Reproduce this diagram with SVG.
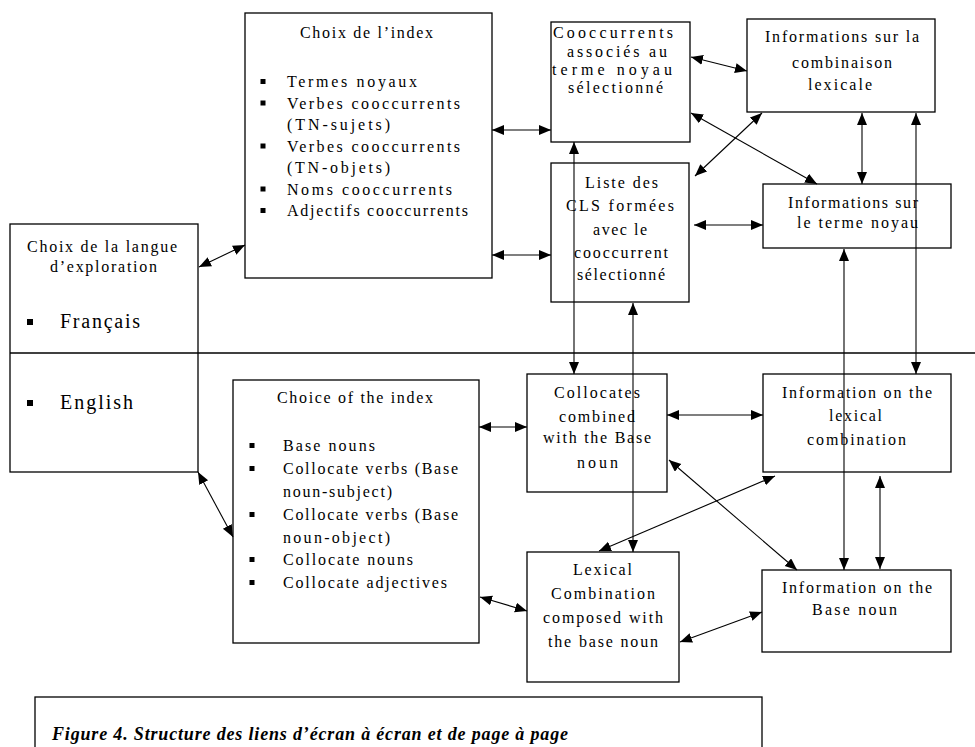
<svg xmlns="http://www.w3.org/2000/svg" width="975" height="747" viewBox="0 0 975 747">
<style>
.box{fill:#fff;stroke:#000;stroke-width:1.3}
.t{font-family:"Liberation Serif","Times New Roman",serif;font-size:16px;fill:#000}
.big{font-size:20px}
.cap{font-family:"Liberation Serif","Times New Roman",serif;font-size:18px;font-weight:bold;font-style:italic;fill:#000}
.c{fill:none;stroke:#000;stroke-width:1.1;marker-start:url(#ah);marker-end:url(#ah)}
.b{fill:#000}
</style>
<defs>
<marker id="ah" markerUnits="userSpaceOnUse" markerWidth="13" markerHeight="11" refX="12" refY="5" orient="auto-start-reverse" viewBox="0 0 13 11">
<path d="M0,0 L12,5 L0,10 z" fill="#000"/>
</marker>
</defs>
<rect width="975" height="747" fill="#fff"/>

<g id="langue">
<rect class="box" x="10" y="224" width="188" height="248"/>
<text class="t" x="27" y="252" textLength="150" lengthAdjust="spacing">Choix de la langue</text>
<text class="t" x="50" y="272" textLength="107" lengthAdjust="spacing">d’exploration</text>
<rect class="b" x="27" y="319" width="6" height="6"/>
<text class="t big" x="60" y="328" textLength="80" lengthAdjust="spacing">Français</text>
<rect class="b" x="27" y="400" width="6" height="6"/>
<text class="t big" x="60" y="409" textLength="73" lengthAdjust="spacing">English</text>
</g>

<g id="divider">
<line x1="10" y1="353" x2="975" y2="353" stroke="#000" stroke-width="1.3"/>
</g>

<g id="index-fr">
<rect class="box" x="245" y="13" width="247" height="265"/>
<text class="t" x="300" y="38" textLength="133" lengthAdjust="spacing">Choix de l’index</text>
<rect class="b" x="260.5" y="79" width="5" height="5"/>
<text class="t" x="287" y="87" textLength="130" lengthAdjust="spacing">Termes noyaux</text>
<rect class="b" x="260.5" y="100.5" width="5" height="5"/>
<text class="t" x="287" y="108.5" textLength="173" lengthAdjust="spacing">Verbes cooccurrents</text>
<text class="t" x="287" y="130" textLength="103" lengthAdjust="spacing">(TN-sujets)</text>
<rect class="b" x="260.5" y="143.5" width="5" height="5"/>
<text class="t" x="287" y="151.5" textLength="173" lengthAdjust="spacing">Verbes cooccurrents</text>
<text class="t" x="287" y="173" textLength="103" lengthAdjust="spacing">(TN-objets)</text>
<rect class="b" x="260.5" y="186.5" width="5" height="5"/>
<text class="t" x="287" y="194.5" textLength="165" lengthAdjust="spacing">Noms cooccurrents</text>
<rect class="b" x="260.5" y="208" width="5" height="5"/>
<text class="t" x="287" y="216" textLength="181" lengthAdjust="spacing">Adjectifs cooccurrents</text>
</g>

<g id="cooccurrents">
<rect class="box" x="551" y="22" width="139" height="120"/>
<text class="t" x="553" y="38" textLength="120" lengthAdjust="spacing">Cooccurrents</text>
<text class="t" x="567" y="57" textLength="100" lengthAdjust="spacing">associés au</text>
<text class="t" x="552" y="75" textLength="120" lengthAdjust="spacing">terme noyau</text>
<text class="t" x="568" y="93" textLength="95" lengthAdjust="spacing">sélectionné</text>
</g>

<g id="liste-cls">
<rect class="box" x="551" y="163" width="138" height="139"/>
<text class="t" x="585" y="188" textLength="73" lengthAdjust="spacing">Liste des</text>
<text class="t" x="566" y="211" textLength="108" lengthAdjust="spacing">CLS formées</text>
<text class="t" x="593" y="235" textLength="54" lengthAdjust="spacing">avec le</text>
<text class="t" x="574" y="258" textLength="94" lengthAdjust="spacing">cooccurrent</text>
<text class="t" x="577" y="280" textLength="88" lengthAdjust="spacing">sélectionné</text>
</g>

<g id="info-combinaison">
<rect class="box" x="747" y="19" width="188" height="93"/>
<text class="t" x="765" y="42" textLength="154" lengthAdjust="spacing">Informations sur la</text>
<text class="t" x="792" y="68" textLength="100" lengthAdjust="spacing">combinaison</text>
<text class="t" x="808" y="90" textLength="64" lengthAdjust="spacing">lexicale</text>
</g>

<g id="info-terme">
<rect class="box" x="763" y="184" width="188" height="64"/>
<text class="t" x="788" y="208" textLength="130" lengthAdjust="spacing">Informations sur</text>
<text class="t" x="797" y="228" textLength="121" lengthAdjust="spacing">le terme noyau</text>
</g>

<g id="index-en">
<rect class="box" x="233" y="380" width="246" height="263"/>
<text class="t" x="277" y="403" textLength="156" lengthAdjust="spacing">Choice of the index</text>
<rect class="b" x="249.5" y="443" width="5" height="5"/>
<text class="t" x="283" y="451" textLength="92" lengthAdjust="spacing">Base nouns</text>
<rect class="b" x="249.5" y="466" width="5" height="5"/>
<text class="t" x="283" y="474" textLength="175" lengthAdjust="spacing">Collocate verbs (Base</text>
<text class="t" x="283" y="497" textLength="109" lengthAdjust="spacing">noun-subject)</text>
<rect class="b" x="249.5" y="512" width="5" height="5"/>
<text class="t" x="283" y="520" textLength="175" lengthAdjust="spacing">Collocate verbs (Base</text>
<text class="t" x="283" y="543" textLength="107" lengthAdjust="spacing">noun-object)</text>
<rect class="b" x="249.5" y="557" width="5" height="5"/>
<text class="t" x="283" y="565" textLength="130" lengthAdjust="spacing">Collocate nouns</text>
<rect class="b" x="249.5" y="580" width="5" height="5"/>
<text class="t" x="283" y="588" textLength="164" lengthAdjust="spacing">Collocate adjectives</text>
</g>

<g id="collocates">
<rect class="box" x="527" y="374" width="140" height="118"/>
<text class="t" x="554" y="398" textLength="86" lengthAdjust="spacing">Collocates</text>
<text class="t" x="559" y="422" textLength="76" lengthAdjust="spacing">combined</text>
<text class="t" x="543" y="443" textLength="108" lengthAdjust="spacing">with the Base</text>
<text class="t" x="577" y="468" textLength="41" lengthAdjust="spacing">noun</text>
</g>

<g id="info-lexical">
<rect class="box" x="763" y="374" width="188" height="98"/>
<text class="t" x="782" y="398" textLength="150" lengthAdjust="spacing">Information on the</text>
<text class="t" x="829" y="421" textLength="53" lengthAdjust="spacing">lexical</text>
<text class="t" x="807" y="445" textLength="99" lengthAdjust="spacing">combination</text>
</g>

<g id="lexical-combination">
<rect class="box" x="527" y="552" width="152" height="130"/>
<text class="t" x="573" y="575" textLength="59" lengthAdjust="spacing">Lexical</text>
<text class="t" x="551" y="599" textLength="104" lengthAdjust="spacing">Combination</text>
<text class="t" x="543" y="623" textLength="120" lengthAdjust="spacing">composed with</text>
<text class="t" x="548" y="647" textLength="110" lengthAdjust="spacing">the base noun</text>
</g>

<g id="info-base-noun">
<rect class="box" x="762" y="570" width="189" height="82"/>
<text class="t" x="782" y="593" textLength="150" lengthAdjust="spacing">Information on the</text>
<text class="t" x="812" y="615" textLength="85" lengthAdjust="spacing">Base noun</text>
</g>

<g id="connectors">
<path class="c" d="M199,267 L245,245"/>
<path class="c" d="M492,130 L551,130"/>
<path class="c" d="M492,255 L551,255"/>
<path class="c" d="M574,142 L574,374"/>
<path class="c" d="M633,303 L633,552"/>
<path class="c" d="M691,57 L747,71"/>
<path class="c" d="M691,113 L817,184"/>
<path class="c" d="M695,176 L762,113"/>
<path class="c" d="M694,225 L763,225"/>
<path class="c" d="M862,113 L862,184"/>
<path class="c" d="M916,113 L916,374"/>
<path class="c" d="M844,249 L844,570"/>
<path class="c" d="M479,427 L527,427"/>
<path class="c" d="M667,415 L763,415"/>
<path class="c" d="M669,460 L797,570"/>
<path class="c" d="M599,551 L775,476"/>
<path class="c" d="M880,476 L880,569"/>
<path class="c" d="M198,472 L233,537"/>
<path class="c" d="M480,597 L527,611"/>
<path class="c" d="M680,642 L762,612"/>
</g>

<g id="caption">
<rect class="box" x="35" y="697" width="727" height="70"/>
<text class="cap" x="52" y="740" textLength="516" lengthAdjust="spacing">Figure 4. Structure des liens d’écran à écran et de page à page</text>
</g>
</svg>
